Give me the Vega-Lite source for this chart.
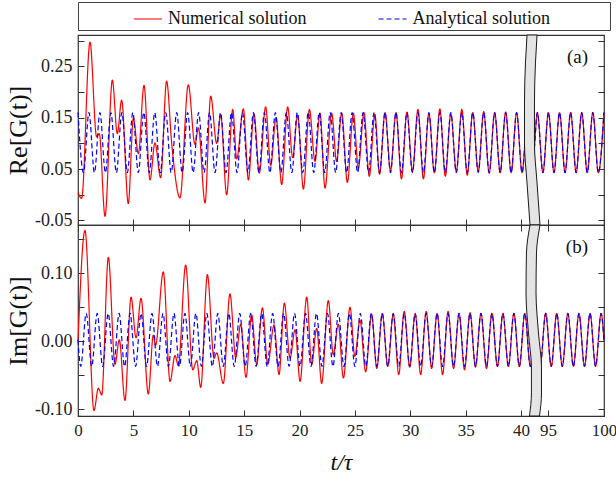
{
  "$schema": "https://vega.github.io/schema/vega-lite/v6.json",
  "padding": {"left": 4, "top": 0, "right": 4, "bottom": 4},
  "autosize": {"type": "pad"},
  "config": {
    "font": "Liberation Serif",
    "view": {"stroke": "#333333", "strokeWidth": 1.2},
    "axis": {"labelFont": "Liberation Serif", "titleFont": "Liberation Serif", "labelColor": "#222222", "titleColor": "#111111", "tickColor": "#333333", "tickWidth": 1, "tickSize": -6, "labelPadding": 12, "domain": false, "grid": false, "titleFontWeight": "normal", "labelFlush": false, "labelOverlap": false},
    "legend": {"labelFont": "Liberation Serif", "titleFont": "Liberation Serif"},
    "line": {"strokeWidth": 1.2, "interpolate": "monotone"}
  },
  "datasets": {
    "reN": [{"t":0,"v":0.004},{"t":0.33,"v":-0.007},{"t":1.08,"v":0.297},{"t":1.68,"v":0.113},{"t":1.92,"v":0.119},{"t":2.44,"v":-0.042},{"t":3.10,"v":0.223},{"t":3.55,"v":0.119},{"t":3.94,"v":0.184},{"t":4.54,"v":-0.017},{"t":5.00,"v":0.149},{"t":5.45,"v":0.080},{"t":5.96,"v":0.213},{"t":6.50,"v":0.029},{"t":6.95,"v":0.101},{"t":7.46,"v":0.033},{"t":8.00,"v":0.221},{"t":8.46,"v":0.100},{"t":9.21,"v":-0.006},{"t":9.96,"v":0.214},{"t":10.56,"v":0.098},{"t":10.87,"v":0.130},{"t":11.47,"v":-0.016},{"t":11.98,"v":0.192},{"t":12.52,"v":0.100},{"t":12.88,"v":0.155},{"t":13.42,"v":0.000},{"t":13.97,"v":0.166},{"t":14.33,"v":0.070},{"t":14.93,"v":0.167},{"t":15.38,"v":0.029},{"t":15.89,"v":0.157},{"t":16.37,"v":0.042},{"t":16.94,"v":0.171},{"t":17.40,"v":0.057},{"t":17.88,"v":0.150},{"t":18.39,"v":0.020},{"t":18.93,"v":0.171},{"t":19.38,"v":0.072},{"t":19.83,"v":0.155},{"t":20.35,"v":0.011},{"t":20.89,"v":0.166},{"t":21.40,"v":0.065},{"t":21.85,"v":0.159},{"t":22.30,"v":0.013},{"t":22.90,"v":0.159},{"t":23.35,"v":0.065},{"t":23.81,"v":0.159},{"t":24.32,"v":0.024},{"t":24.86,"v":0.159},{"t":25.31,"v":0.052},{"t":25.82,"v":0.160},{"t":26.30,"v":0.036},{"t":26.80,"v":0.157},{"t":27.225,"v":0.040},{"t":27.72,"v":0.160},{"t":28.215,"v":0.047},{"t":28.71,"v":0.160},{"t":29.205,"v":0.031},{"t":29.70,"v":0.161},{"t":30.195,"v":0.045},{"t":30.69,"v":0.166},{"t":31.185,"v":0.031},{"t":31.68,"v":0.158},{"t":32.175,"v":0.043},{"t":32.67,"v":0.167},{"t":33.165,"v":0.036},{"t":33.66,"v":0.158},{"t":34.155,"v":0.045},{"t":34.65,"v":0.166},{"t":35.145,"v":0.038},{"t":35.64,"v":0.160},{"t":36.135,"v":0.045},{"t":36.63,"v":0.162},{"t":37.125,"v":0.042},{"t":37.62,"v":0.160},{"t":38.115,"v":0.043},{"t":38.61,"v":0.161},{"t":39.105,"v":0.043},{"t":39.60,"v":0.160},{"t":40.095,"v":0.043},{"t":40.59,"v":0.160},{"t":41.0,"v":0.051},{"t":93.75,"v":0.082},{"t":94.05,"v":0.160},{"t":94.545,"v":0.043},{"t":95.04,"v":0.160},{"t":95.535,"v":0.043},{"t":96.03,"v":0.160},{"t":96.525,"v":0.043},{"t":97.02,"v":0.160},{"t":97.515,"v":0.043},{"t":98.01,"v":0.160},{"t":98.505,"v":0.043},{"t":99.0,"v":0.160},{"t":99.495,"v":0.043},{"t":99.99,"v":0.160}],
    "reA": [{"t":0,"v":0.16},{"t":0.495,"v":0.043},{"t":0.99,"v":0.16},{"t":1.485,"v":0.043},{"t":1.98,"v":0.16},{"t":2.475,"v":0.043},{"t":2.97,"v":0.16},{"t":3.465,"v":0.043},{"t":3.96,"v":0.16},{"t":4.455,"v":0.043},{"t":4.95,"v":0.16},{"t":5.445,"v":0.043},{"t":5.94,"v":0.16},{"t":6.435,"v":0.043},{"t":6.93,"v":0.16},{"t":7.425,"v":0.043},{"t":7.92,"v":0.16},{"t":8.415,"v":0.043},{"t":8.91,"v":0.16},{"t":9.405,"v":0.043},{"t":9.9,"v":0.16},{"t":10.395,"v":0.043},{"t":10.89,"v":0.16},{"t":11.385,"v":0.043},{"t":11.88,"v":0.16},{"t":12.375,"v":0.043},{"t":12.87,"v":0.16},{"t":13.365,"v":0.043},{"t":13.86,"v":0.16},{"t":14.355,"v":0.043},{"t":14.85,"v":0.16},{"t":15.345,"v":0.043},{"t":15.84,"v":0.16},{"t":16.335,"v":0.043},{"t":16.83,"v":0.16},{"t":17.325,"v":0.043},{"t":17.82,"v":0.16},{"t":18.315,"v":0.043},{"t":18.81,"v":0.16},{"t":19.305,"v":0.043},{"t":19.8,"v":0.16},{"t":20.295,"v":0.043},{"t":20.79,"v":0.16},{"t":21.285,"v":0.043},{"t":21.78,"v":0.16},{"t":22.275,"v":0.043},{"t":22.77,"v":0.16},{"t":23.265,"v":0.043},{"t":23.76,"v":0.16},{"t":24.255,"v":0.043},{"t":24.75,"v":0.16},{"t":25.245,"v":0.043},{"t":25.74,"v":0.16},{"t":26.235,"v":0.043},{"t":26.73,"v":0.16},{"t":27.225,"v":0.043},{"t":27.72,"v":0.16},{"t":28.215,"v":0.043},{"t":28.71,"v":0.16},{"t":29.205,"v":0.043},{"t":29.7,"v":0.16},{"t":30.195,"v":0.043},{"t":30.69,"v":0.16},{"t":31.185,"v":0.043},{"t":31.68,"v":0.16},{"t":32.175,"v":0.043},{"t":32.67,"v":0.16},{"t":33.165,"v":0.043},{"t":33.66,"v":0.16},{"t":34.155,"v":0.043},{"t":34.65,"v":0.16},{"t":35.145,"v":0.043},{"t":35.64,"v":0.16},{"t":36.135,"v":0.043},{"t":36.63,"v":0.16},{"t":37.125,"v":0.043},{"t":37.62,"v":0.16},{"t":38.115,"v":0.043},{"t":38.61,"v":0.16},{"t":39.105,"v":0.043},{"t":39.6,"v":0.16},{"t":40.095,"v":0.043},{"t":40.59,"v":0.16},{"t":41.0,"v":0.051},{"t":93.75,"v":0.082},{"t":94.05,"v":0.16},{"t":94.545,"v":0.043},{"t":95.04,"v":0.16},{"t":95.535,"v":0.043},{"t":96.03,"v":0.16},{"t":96.525,"v":0.043},{"t":97.02,"v":0.16},{"t":97.515,"v":0.043},{"t":98.01,"v":0.16},{"t":98.505,"v":0.043},{"t":99.0,"v":0.16},{"t":99.495,"v":0.043},{"t":99.99,"v":0.16}],
    "imN": [{"t":0,"v":0.000},{"t":0.63,"v":0.163},{"t":1.44,"v":-0.102},{"t":1.84,"v":-0.069},{"t":2.14,"v":-0.079},{"t":2.74,"v":0.1235},{"t":3.34,"v":-0.034},{"t":3.73,"v":0.002},{"t":4.24,"v":-0.087},{"t":4.79,"v":0.065},{"t":5.24,"v":0.005},{"t":5.69,"v":0.063},{"t":6.35,"v":-0.0775},{"t":6.80,"v":0.009},{"t":7.00,"v":-0.006},{"t":7.70,"v":0.102},{"t":8.31,"v":-0.059},{"t":8.76,"v":-0.021},{"t":9.06,"v":-0.036},{"t":9.72,"v":0.112},{"t":10.36,"v":-0.042},{"t":10.72,"v":-0.0285},{"t":11.08,"v":-0.068},{"t":11.68,"v":0.098},{"t":12.28,"v":-0.025},{"t":12.52,"v":-0.017},{"t":13.12,"v":-0.062},{"t":13.72,"v":0.0696},{"t":14.24,"v":-0.024},{"t":14.69,"v":0.025},{"t":15.17,"v":-0.053},{"t":15.68,"v":0.039},{"t":16.13,"v":-0.034},{"t":16.65,"v":0.049},{"t":17.13,"v":-0.034},{"t":17.70,"v":0.024},{"t":18.15,"v":-0.049},{"t":18.63,"v":0.056},{"t":19.14,"v":-0.025},{"t":19.60,"v":0.017},{"t":20.05,"v":-0.059},{"t":20.65,"v":0.065},{"t":21.10,"v":-0.034},{"t":21.55,"v":0.019},{"t":22.00,"v":-0.062},{"t":22.60,"v":0.060},{"t":23.05,"v":-0.020},{"t":23.50,"v":0.025},{"t":23.96,"v":-0.054},{"t":24.56,"v":0.050},{"t":25.00,"v":-0.022},{"t":25.46,"v":0.031},{"t":25.97,"v":-0.045},{"t":26.51,"v":0.040},{"t":26.9775,"v":-0.040},{"t":27.4725,"v":0.041},{"t":27.9675,"v":-0.037},{"t":28.4625,"v":0.040},{"t":28.9575,"v":-0.049},{"t":29.4525,"v":0.044},{"t":29.9475,"v":-0.038},{"t":30.4425,"v":0.040},{"t":30.9375,"v":-0.049},{"t":31.4325,"v":0.044},{"t":31.9275,"v":-0.040},{"t":32.4225,"v":0.041},{"t":32.9175,"v":-0.049},{"t":33.4125,"v":0.044},{"t":33.9075,"v":-0.040},{"t":34.4025,"v":0.041},{"t":34.8975,"v":-0.042},{"t":35.3925,"v":0.042},{"t":35.8875,"v":-0.038},{"t":36.3825,"v":0.041},{"t":36.8775,"v":-0.040},{"t":37.3725,"v":0.041},{"t":37.8675,"v":-0.037},{"t":38.3625,"v":0.041},{"t":38.8575,"v":-0.037},{"t":39.3525,"v":0.041},{"t":39.8475,"v":-0.037},{"t":40.3425,"v":0.041},{"t":40.8375,"v":-0.037},{"t":41.0,"v":-0.018},{"t":93.8025,"v":0.041},{"t":94.2975,"v":-0.037},{"t":94.7925,"v":0.041},{"t":95.2875,"v":-0.037},{"t":95.7825,"v":0.041},{"t":96.2775,"v":-0.037},{"t":96.7725,"v":0.041},{"t":97.2675,"v":-0.037},{"t":97.7625,"v":0.041},{"t":98.2575,"v":-0.037},{"t":98.7525,"v":0.041},{"t":99.2475,"v":-0.037},{"t":99.7425,"v":0.041},{"t":100,"v":0.0}],
    "imA": [{"t":0,"v":0.002},{"t":0.2475,"v":-0.037},{"t":0.7425,"v":0.041},{"t":1.2375,"v":-0.037},{"t":1.7325,"v":0.041},{"t":2.2275,"v":-0.037},{"t":2.7225,"v":0.041},{"t":3.2175,"v":-0.037},{"t":3.7125,"v":0.041},{"t":4.2075,"v":-0.037},{"t":4.7025,"v":0.041},{"t":5.1975,"v":-0.037},{"t":5.6925,"v":0.041},{"t":6.1875,"v":-0.037},{"t":6.6825,"v":0.041},{"t":7.1775,"v":-0.037},{"t":7.6725,"v":0.041},{"t":8.1675,"v":-0.037},{"t":8.6625,"v":0.041},{"t":9.1575,"v":-0.037},{"t":9.6525,"v":0.041},{"t":10.1475,"v":-0.037},{"t":10.6425,"v":0.041},{"t":11.1375,"v":-0.037},{"t":11.6325,"v":0.041},{"t":12.1275,"v":-0.037},{"t":12.6225,"v":0.041},{"t":13.1175,"v":-0.037},{"t":13.6125,"v":0.041},{"t":14.1075,"v":-0.037},{"t":14.6025,"v":0.041},{"t":15.0975,"v":-0.037},{"t":15.5925,"v":0.041},{"t":16.0875,"v":-0.037},{"t":16.5825,"v":0.041},{"t":17.0775,"v":-0.037},{"t":17.5725,"v":0.041},{"t":18.0675,"v":-0.037},{"t":18.5625,"v":0.041},{"t":19.0575,"v":-0.037},{"t":19.5525,"v":0.041},{"t":20.0475,"v":-0.037},{"t":20.5425,"v":0.041},{"t":21.0375,"v":-0.037},{"t":21.5325,"v":0.041},{"t":22.0275,"v":-0.037},{"t":22.5225,"v":0.041},{"t":23.0175,"v":-0.037},{"t":23.5125,"v":0.041},{"t":24.0075,"v":-0.037},{"t":24.5025,"v":0.041},{"t":24.9975,"v":-0.037},{"t":25.4925,"v":0.041},{"t":25.9875,"v":-0.037},{"t":26.4825,"v":0.041},{"t":26.9775,"v":-0.037},{"t":27.4725,"v":0.041},{"t":27.9675,"v":-0.037},{"t":28.4625,"v":0.041},{"t":28.9575,"v":-0.037},{"t":29.4525,"v":0.041},{"t":29.9475,"v":-0.037},{"t":30.4425,"v":0.041},{"t":30.9375,"v":-0.037},{"t":31.4325,"v":0.041},{"t":31.9275,"v":-0.037},{"t":32.4225,"v":0.041},{"t":32.9175,"v":-0.037},{"t":33.4125,"v":0.041},{"t":33.9075,"v":-0.037},{"t":34.4025,"v":0.041},{"t":34.8975,"v":-0.037},{"t":35.3925,"v":0.041},{"t":35.8875,"v":-0.037},{"t":36.3825,"v":0.041},{"t":36.8775,"v":-0.037},{"t":37.3725,"v":0.041},{"t":37.8675,"v":-0.037},{"t":38.3625,"v":0.041},{"t":38.8575,"v":-0.037},{"t":39.3525,"v":0.041},{"t":39.8475,"v":-0.037},{"t":40.3425,"v":0.041},{"t":40.8375,"v":-0.037},{"t":41.0,"v":-0.018},{"t":93.8025,"v":0.041},{"t":94.2975,"v":-0.037},{"t":94.7925,"v":0.041},{"t":95.2875,"v":-0.037},{"t":95.7825,"v":0.041},{"t":96.2775,"v":-0.037},{"t":96.7725,"v":0.041},{"t":97.2675,"v":-0.037},{"t":97.7625,"v":0.041},{"t":98.2575,"v":-0.037},{"t":98.7525,"v":0.041},{"t":99.2475,"v":-0.037},{"t":99.7425,"v":0.041},{"t":100,"v":0.0}],
    "brkA": [{"y":0.3108,"t1":40.54,"t2":94.02},{"y":0.2564,"t1":40.40,"t2":93.88},{"y":0.1786,"t1":40.31,"t2":93.79},{"y":0.1008,"t1":40.31,"t2":93.79},{"y":0.0230,"t1":40.54,"t2":94.02},{"y":-0.0588,"t1":40.81,"t2":94.285}],
    "brkB": [{"y":0.1710,"t1":40.81,"t2":94.285},{"y":0.1299,"t1":40.49,"t2":93.97},{"y":0.0710,"t1":40.45,"t2":93.93},{"y":0.0122,"t1":40.67,"t2":94.15},{"y":-0.0393,"t1":40.94,"t2":94.42},{"y":-0.0760,"t1":40.94,"t2":94.42},{"y":-0.1099,"t1":40.76,"t2":94.24}]
  },
  "bounds": "flush",
  "spacing": 0,
  "resolve": {"legend": {"color": "independent", "strokeDash": "independent"}},
  "vconcat": [
    {
      "width": 526, "height": 190,
      "resolve": {"axis": {"x": "independent", "y": "independent"}},
      "layer": [
        {
          "data": {"name": "reN"},
          "mark": {"type": "line", "interpolate": "monotone", "strokeWidth": 1.2},
          "encoding": {
            "x": {"field": "t", "type": "quantitative", "scale": {"domain": [0, 41.08, 93.66, 100], "range": [0, 455, 455, 526], "nice": false, "zero": false}, "axis": {"orient": "bottom", "values": [0,5,10,15,20,25,30,35,40,95,100], "labels": false, "title": null}},
            "y": {"field": "v", "type": "quantitative", "scale": {"domain": [-0.0588, 0.3108], "nice": false, "zero": false}, "axis": {"orient": "left", "values": [-0.05,0,0.05,0.1,0.15,0.2,0.25,0.3], "labelExpr": "abs(round(datum.value*100)) % 10 == 5 ? (datum.value < 0 ? '-' + format(-datum.value, '.2f') : format(datum.value, '.2f')) : ''", "labelFontSize": 18, "title": "Re[G(t)]", "titleFontSize": 26, "titlePadding": 3}},
            "color": {"datum": "Numerical solution", "type": "nominal", "scale": {"domain": ["Numerical solution", "Analytical solution"], "range": ["#ff0000", "#0000ff"]}, "legend": {"orient": "top", "direction": "horizontal", "title": "MMM", "titleOrient": "right", "titleColor": "rgba(0,0,0,0)", "titleFontSize": 18, "titlePadding": 6.5, "symbolOffset": 53, "offset": 5, "padding": 2, "strokeColor": "#444444", "symbolType": "stroke", "symbolSize": 784, "symbolStrokeWidth": 1.5, "labelFontSize": 18, "labelFont": "Liberation Serif", "labelColor": "#111111", "labelOffset": 5, "columnPadding": 17.5}},
            "strokeDash": {"datum": "Numerical solution", "type": "nominal", "scale": {"domain": ["Numerical solution", "Analytical solution"], "range": [[1, 0], [5, 3]]}, "legend": {"orient": "top", "direction": "horizontal", "title": "MMM", "titleOrient": "right", "titleColor": "rgba(0,0,0,0)", "titleFontSize": 18, "titlePadding": 6.5, "symbolOffset": 53, "offset": 5, "padding": 2, "strokeColor": "#444444", "symbolType": "stroke", "symbolSize": 784, "symbolStrokeWidth": 1.5, "labelFontSize": 18, "labelFont": "Liberation Serif", "labelColor": "#111111", "labelOffset": 5, "columnPadding": 17.5}}
          }
        },
        {
          "data": {"name": "reA"},
          "mark": {"type": "line", "interpolate": "monotone", "strokeWidth": 1.2},
          "encoding": {
            "x": {"field": "t", "type": "quantitative", "scale": {"domain": [0, 41.08, 93.66, 100], "range": [0, 455, 455, 526], "nice": false, "zero": false}, "axis": null},
            "y": {"field": "v", "type": "quantitative", "scale": {"domain": [-0.0588, 0.3108], "nice": false, "zero": false}, "axis": {"orient": "right", "values": [-0.05,0,0.05,0.1,0.15,0.2,0.25,0.3], "labels": false, "title": null}},
            "color": {"datum": "Analytical solution", "type": "nominal", "scale": {"domain": ["Numerical solution", "Analytical solution"], "range": ["#ff0000", "#0000ff"]}, "legend": {"orient": "top", "direction": "horizontal", "title": "MMM", "titleOrient": "right", "titleColor": "rgba(0,0,0,0)", "titleFontSize": 18, "titlePadding": 6.5, "symbolOffset": 53, "offset": 5, "padding": 2, "strokeColor": "#444444", "symbolType": "stroke", "symbolSize": 784, "symbolStrokeWidth": 1.5, "labelFontSize": 18, "labelFont": "Liberation Serif", "labelColor": "#111111", "labelOffset": 5, "columnPadding": 17.5}},
            "strokeDash": {"datum": "Analytical solution", "type": "nominal", "scale": {"domain": ["Numerical solution", "Analytical solution"], "range": [[1, 0], [5, 3]]}, "legend": {"orient": "top", "direction": "horizontal", "title": "MMM", "titleOrient": "right", "titleColor": "rgba(0,0,0,0)", "titleFontSize": 18, "titlePadding": 6.5, "symbolOffset": 53, "offset": 5, "padding": 2, "strokeColor": "#444444", "symbolType": "stroke", "symbolSize": 784, "symbolStrokeWidth": 1.5, "labelFontSize": 18, "labelFont": "Liberation Serif", "labelColor": "#111111", "labelOffset": 5, "columnPadding": 17.5}}
          }
        },
        {
          "data": {"name": "brkA"},
          "mark": {"type": "area", "orient": "horizontal", "interpolate": "monotone", "fill": "#e4e4e4", "stroke": "#1a1a1a", "strokeWidth": 1},
          "encoding": {
            "y": {"field": "y", "type": "quantitative", "scale": {"domain": [-0.0588, 0.3108], "nice": false, "zero": false}, "axis": null},
            "x": {"field": "t1", "type": "quantitative", "scale": {"domain": [0, 41.08, 93.66, 100], "range": [0, 455, 455, 526], "nice": false, "zero": false}, "axis": null},
            "x2": {"field": "t2"}
          }
        },
        {
          "data": {"values": [{}]},
          "mark": {"type": "text", "align": "right", "baseline": "middle", "fontSize": 19, "font": "Liberation Serif", "color": "#111111"},
          "encoding": {
            "x": {"datum": 98.57, "type": "quantitative", "scale": {"domain": [0, 41.08, 93.66, 100], "range": [0, 455, 455, 526], "nice": false, "zero": false}, "axis": null},
            "y": {"datum": 0.268, "type": "quantitative", "scale": {"domain": [-0.0588, 0.3108], "nice": false, "zero": false}, "axis": null},
            "text": {"value": "(a)"}
          }
        }
      ]
    },
    {
      "width": 526, "height": 191,
      "resolve": {"axis": {"x": "independent", "y": "independent"}},
      "layer": [
        {
          "data": {"name": "imN"},
          "mark": {"type": "line", "interpolate": "monotone", "strokeWidth": 1.2},
          "encoding": {
            "x": {"field": "t", "type": "quantitative", "scale": {"domain": [0, 41.08, 93.66, 100], "range": [0, 455, 455, 526], "nice": false, "zero": false}, "axis": {"orient": "bottom", "values": [0,5,10,15,20,25,30,35,40,95,100], "labelFontSize": 17, "title": "t/τ", "titleFontSize": 24, "titleFontStyle": "italic", "titlePadding": 12}},
            "y": {"field": "v", "type": "quantitative", "scale": {"domain": [-0.1099, 0.1710], "nice": false, "zero": false}, "axis": {"orient": "left", "values": [-0.1,-0.05,0,0.05,0.1,0.15], "labelExpr": "abs(round(datum.value*100)) % 10 == 0 ? (datum.value < -0.001 ? '-' + format(-datum.value, '.2f') : format(abs(datum.value), '.2f')) : ''", "labelFontSize": 18, "title": "Im[G(t)]", "titleFontSize": 26, "titlePadding": 3}},
            "color": {"datum": "Numerical solution", "type": "nominal", "scale": {"domain": ["Numerical solution", "Analytical solution"], "range": ["#ff0000", "#0000ff"]}, "legend": null},
            "strokeDash": {"datum": "Numerical solution", "type": "nominal", "scale": {"domain": ["Numerical solution", "Analytical solution"], "range": [[1, 0], [5, 3]]}, "legend": null}
          }
        },
        {
          "data": {"name": "imA"},
          "mark": {"type": "line", "interpolate": "monotone", "strokeWidth": 1.2},
          "encoding": {
            "x": {"field": "t", "type": "quantitative", "scale": {"domain": [0, 41.08, 93.66, 100], "range": [0, 455, 455, 526], "nice": false, "zero": false}, "axis": {"orient": "top", "values": [0,5,10,15,20,25,30,35,40,95,100], "labels": false, "title": null}},
            "y": {"field": "v", "type": "quantitative", "scale": {"domain": [-0.1099, 0.1710], "nice": false, "zero": false}, "axis": {"orient": "right", "values": [-0.1,-0.05,0,0.05,0.1,0.15], "labels": false, "title": null}},
            "color": {"datum": "Analytical solution", "type": "nominal", "scale": {"domain": ["Numerical solution", "Analytical solution"], "range": ["#ff0000", "#0000ff"]}, "legend": null},
            "strokeDash": {"datum": "Analytical solution", "type": "nominal", "scale": {"domain": ["Numerical solution", "Analytical solution"], "range": [[1, 0], [5, 3]]}, "legend": null}
          }
        },
        {
          "data": {"name": "brkB"},
          "mark": {"type": "area", "orient": "horizontal", "interpolate": "monotone", "fill": "#e4e4e4", "stroke": "#1a1a1a", "strokeWidth": 1},
          "encoding": {
            "y": {"field": "y", "type": "quantitative", "scale": {"domain": [-0.1099, 0.1710], "nice": false, "zero": false}, "axis": null},
            "x": {"field": "t1", "type": "quantitative", "scale": {"domain": [0, 41.08, 93.66, 100], "range": [0, 455, 455, 526], "nice": false, "zero": false}, "axis": null},
            "x2": {"field": "t2"}
          }
        },
        {
          "data": {"values": [{}]},
          "mark": {"type": "text", "align": "right", "baseline": "middle", "fontSize": 19, "font": "Liberation Serif", "color": "#111111"},
          "encoding": {
            "x": {"datum": 98.57, "type": "quantitative", "scale": {"domain": [0, 41.08, 93.66, 100], "range": [0, 455, 455, 526], "nice": false, "zero": false}, "axis": null},
            "y": {"datum": 0.139, "type": "quantitative", "scale": {"domain": [-0.1099, 0.1710], "nice": false, "zero": false}, "axis": null},
            "text": {"value": "(b)"}
          }
        }
      ]
    }
  ]
}
